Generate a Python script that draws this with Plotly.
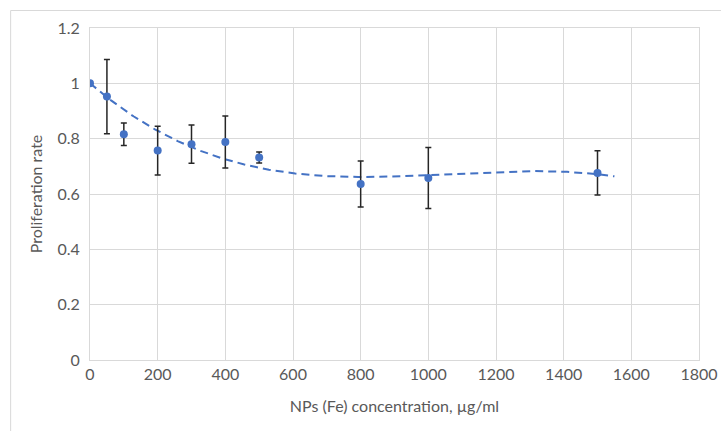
import numpy as np
import plotly.graph_objects as go

conc = [0, 50, 100, 200, 300, 400, 500, 800, 1000, 1500]
rate = [1.0, 0.952, 0.816, 0.757, 0.780, 0.788, 0.732, 0.636, 0.658, 0.676]
err = [0.0, 0.134, 0.041, 0.088, 0.069, 0.094, 0.020, 0.083, 0.110, 0.080]
x_ticks = [0, 200, 400, 600, 800, 1000, 1200, 1400, 1600, 1800]
y_ticks = [0, 0.2, 0.4, 0.6, 0.8, 1.0, 1.2]
y_tick_text = ["0", "0.2", "0.4", "0.6", "0.8", "1", "1.2"]
trend_end = 1550          # trendline forecast forward to 1550
trend_intercept = 1.0     # trendline intercept fixed at 1
trend_degree = 3

FONT = "Lato"
TXT = "#595959"
BLUE = "#4472C4"
GRID = "#D9D9D9"

# Polynomial trendline (cubic, intercept fixed), as Excel computes it
xa = np.array(conc, float)
ya = np.array(rate, float)
A = np.vstack([xa ** k for k in range(1, trend_degree + 1)]).T
coef, *_ = np.linalg.lstsq(A, ya - trend_intercept, rcond=None)
tx = np.linspace(0, trend_end, 300)
ty = trend_intercept + sum(coef[k - 1] * tx ** k for k in range(1, trend_degree + 1))

fig = go.Figure()
fig.add_trace(go.Scatter(x=tx, y=ty, mode="lines",
                         line=dict(color=BLUE, width=2, dash="8px,5px"),
                         hoverinfo="skip", showlegend=False))
fig.add_trace(go.Scatter(
    x=conc, y=rate, mode="markers",
    marker=dict(color=BLUE, size=8),
    error_y=dict(type="data", array=err, visible=True, color="#262626",
                 thickness=1.5, width=3),
    showlegend=False))

W, H = 721, 431
L, R, T, B = 89.5, 21.5, 28, 71
pw, ph = W - L - R, H - T - B
fx = -(L - 10) / pw
fy = 1 + (T - 10.5) / ph
fig.update_layout(
    width=W, height=H,
    margin=dict(l=L, r=R, t=T, b=B, autoexpand=False),
    paper_bgcolor="white", plot_bgcolor="white",
    font=dict(family=FONT, size=16, color=TXT),
    shapes=[
        dict(type="line", xref="paper", yref="paper", x0=fx, x1=1.2,
             y0=fy, y1=fy, line=dict(color=GRID, width=1)),
        dict(type="line", xref="paper", yref="paper", x0=fx, x1=fx,
             y0=-0.5, y1=fy, line=dict(color=GRID, width=1)),
    ],
)
fig.update_xaxes(range=[0, 1800], tickvals=x_ticks, showgrid=True, gridcolor=GRID,
                 gridwidth=1, zeroline=False, showline=True, linecolor=GRID,
                 mirror=True, ticks="", automargin=False,
                 title=dict(text="NPs (Fe) concentration, µg/ml", standoff=18,
                            font=dict(size=16, color=TXT)))
fig.update_yaxes(range=[0, 1.2], tickvals=y_ticks, ticktext=y_tick_text,
                 showgrid=True, gridcolor=GRID, gridwidth=1, zeroline=False,
                 showline=True, linecolor=GRID, mirror=True, ticks="",
                 ticklabelstandoff=6, automargin=False,
                 title=dict(text="Proliferation rate", standoff=10,
                            font=dict(size=16, color=TXT)))

fig.write_html("out.html", config={"displayModeBar": False},
               post_script="document.body.style.margin='0';")
